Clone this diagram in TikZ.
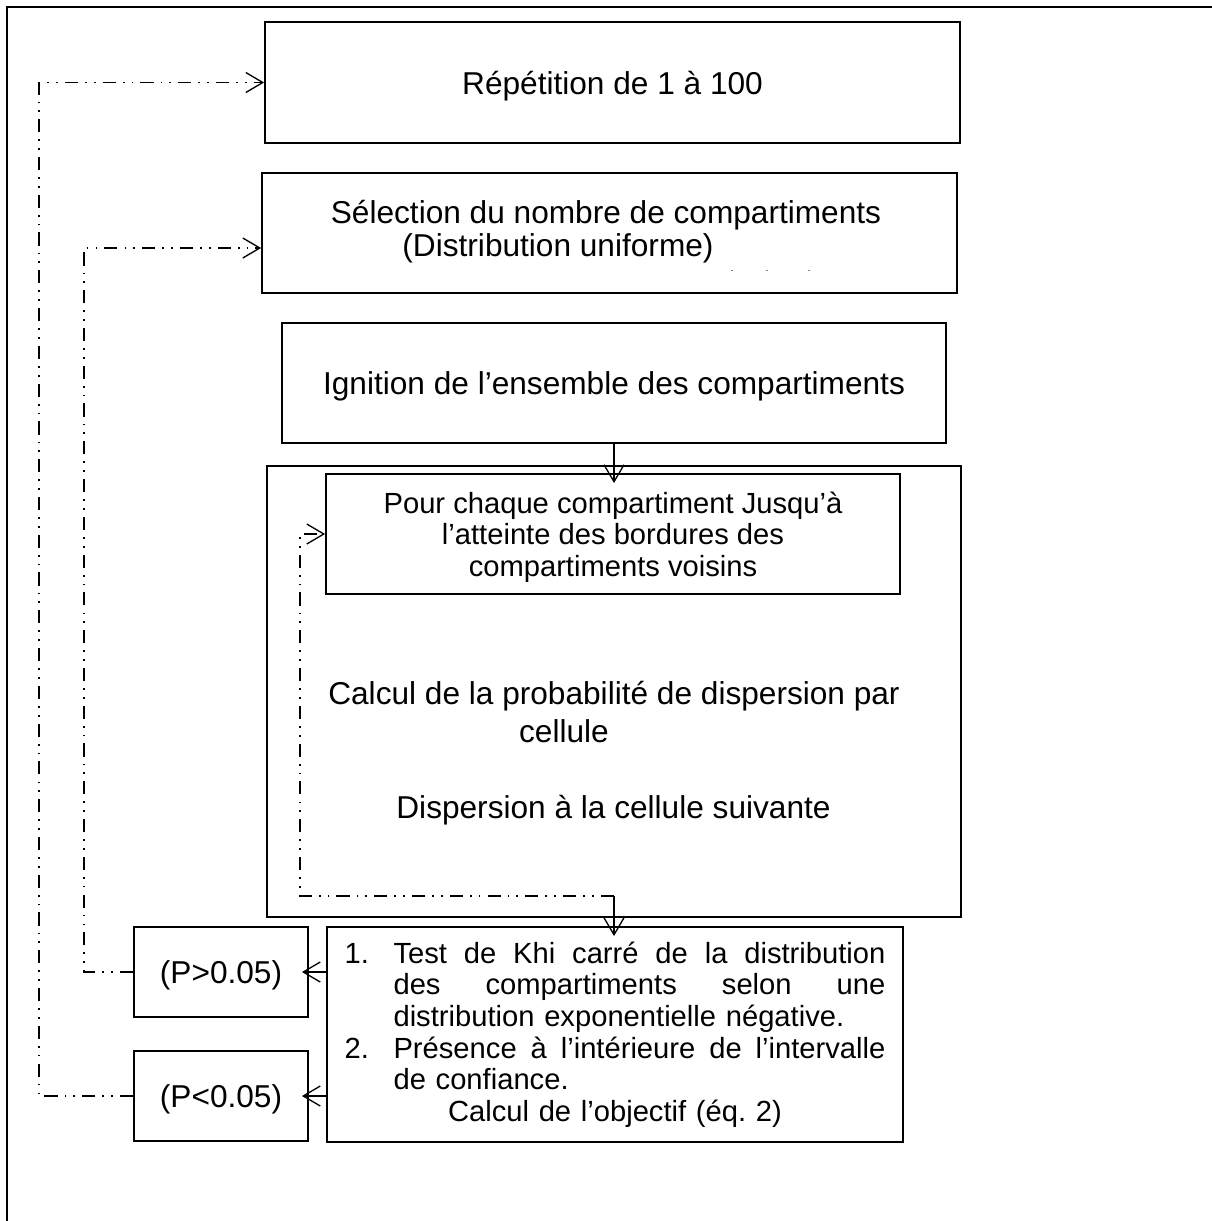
\documentclass[tikz,border=0pt]{standalone}
\usepackage{fontspec}
\setmainfont{Liberation Sans}
\usetikzlibrary{arrows.meta}

\newcommand{\bigtxt}{\fontsize{18}{20.5}\selectfont\frenchspacing}
\newcommand{\smalltxt}{\fontsize{16.6}{18}\selectfont\frenchspacing}

\begin{document}
\begin{tikzpicture}[x=0.02cm, y=-0.02cm, >={Straight Barb[length=0.34cm,width=0.4cm]}]
    \useasboundingbox (0,0) rectangle (1212,1221);
    \draw[line width=1.1pt] (7,1221) -- (7,7) -- (1212,7);
    \begin{scope}[every node/.style={rectangle, draw, line width=1.1pt, inner sep=0pt, font=\bigtxt},
        oneline/.style={text height=0.46cm, text depth=0pt},
        smalltext/.style={font=\smalltxt, align=center}]
        \node[oneline, minimum width=13.9cm, minimum height=2.42cm] (rep) at (612.5,82.5) {Répétition de 1 à 100};
        \node[minimum width=13.9cm, minimum height=2.4cm] (sel) at (609.5,233) {};
        \node[oneline, minimum width=13.28cm, minimum height=2.4cm] (ign) at (614,383) {Ignition de l’ensemble des compartiments};
        \node[minimum width=13.88cm, minimum height=9.02cm] (cell) at (614,691.5) {};
        \node[smalltext, minimum width=11.48cm, minimum height=2.4cm, text depth=0pt] (bord) at (613,534)
            {Pour chaque compartiment Jusqu’à\\l’atteinte des bordures des\\compartiments voisins};
        \node[oneline, minimum width=3.48cm, minimum height=1.8cm] (pgt) at (221,972) {(P>0.05)};
        \node[oneline, minimum width=3.48cm, minimum height=1.8cm] (plt) at (221,1096) {(P<0.05)};
        \node[smalltext, align=left, text width=10.82cm, minimum width=11.52cm, minimum height=4.3cm] (khi) at (615,1034.5)
            {\makebox[0.98cm][l]{1.}\makebox[9.84cm][s]{Test \hfill de \hfill Khi \hfill carré \hfill de \hfill la \hfill distribution}\\
             \hspace*{0.98cm}\makebox[9.84cm][s]{des \hfill compartiments \hfill selon \hfill une}\\
             \hspace*{0.98cm}distribution exponentielle négative.\\
             \makebox[0.98cm][l]{2.}\makebox[9.84cm][s]{Présence \hfill à \hfill l’intérieure \hfill de \hfill l’intervalle}\\
             \hspace*{0.98cm}de confiance.\\
             \makebox[10.82cm]{Calcul de l’objectif (éq. 2)}};
    \end{scope}
    \begin{scope}[every node/.style={font=\bigtxt, anchor=base, inner sep=0pt}]
        \node (sel1) at (606,223) {Sélection du nombre de compartiments};
        \node (sel2) at (558,256) {(Distribution uniforme)};
        \node (calc) at (614,704) {Calcul de la probabilité de dispersion par};
        \node (cel) at (564,742) {cellule};
        \node (disp) at (613.5,818) {Dispersion à la cellule suivante};
    \end{scope}
    % faint marks left after the second line
    \foreach \x in {732,767,809}
        \fill[gray] (\x-1,269.5) rectangle (\x+1,271);
    \begin{scope}[line width=0.75pt,
        cycleline/.style={dash pattern=on 7.5pt off 4pt on 1pt off 4pt on 1pt off 4pt}]
        \coordinate (turn) at (614,896);
        \draw[cycleline, ->] (plt.west) -- ++(-94,0) |- (rep.west);
        \draw[cycleline, ->] (pgt.west) -- ++(-49,0) |- ([yshift=-0.3cm]sel.west);
        \draw[cycleline, ->] (turn) -- ++(-314,0) |- (bord.west);
        \draw[->, shorten >=-0.2cm] (ign.south) -- (ign.south |- bord.north);
        \draw[->, shorten >=-0.2cm] (turn) -- (turn |- khi.north);
        \draw[->, shorten >=-0.14cm] (khi.west |- pgt.east) -- (pgt.east);
        \draw[->, shorten >=-0.14cm] (khi.west |- plt.east) -- (plt.east);
    \end{scope}
\end{tikzpicture}
\end{document}
